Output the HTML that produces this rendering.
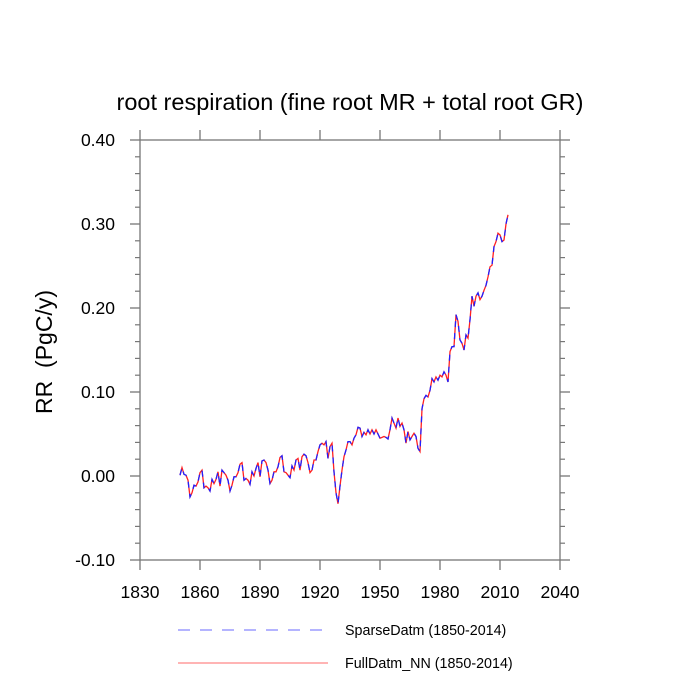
<!DOCTYPE html>
<html><head><meta charset="utf-8"><style>
html,body{margin:0;padding:0;background:#fff;}
svg{display:block;font-family:"Liberation Sans",sans-serif;}
</style></head><body>
<svg id="chart" width="700" height="700">
<text x="350" y="110" text-anchor="middle" font-size="23.5">root respiration (fine root MR + total root GR)</text>
<text transform="translate(52,352) rotate(-90)" text-anchor="middle" font-size="23">RR&#160; (PgC/y)</text>
<g id="axes"></g>
<g id="series"></g>
<g>
<line x1="178" y1="630" x2="328" y2="630" stroke="#6a6aff" stroke-width="1" stroke-dasharray="12,10"/>
<text x="345" y="635" font-size="14.3">SparseDatm (1850-2014)</text>
<line x1="178" y1="663" x2="328" y2="663" stroke="#ff6a6a" stroke-width="1"/>
<text x="345" y="668" font-size="14.3">FullDatm_NN (1850-2014)</text>
</g>
</svg>
<script>
const startYear = 1850;
const fullValues = [0.001,0.010,0.002,0.001,-0.005,-0.025,-0.020,-0.011,-0.012,-0.007,
0.004,0.007,-0.014,-0.012,-0.014,-0.018,-0.004,-0.009,-0.004,0.005,
-0.012,0.007,0.004,0.001,-0.005,-0.018,-0.011,-0.001,-0.001,0.004,
0.014,0.016,-0.005,-0.003,-0.005,-0.010,0.005,0.000,0.009,0.016,
-0.001,0.018,0.019,0.016,0.007,-0.009,-0.005,0.005,0.005,0.011,
0.022,0.024,0.005,0.004,0.001,-0.002,0.012,0.007,0.019,0.021,
0.007,0.023,0.026,0.024,0.016,0.004,0.007,0.019,0.019,0.029,
0.037,0.039,0.037,0.041,0.021,0.035,0.039,0.005,-0.020,-0.033,
-0.012,0.007,0.023,0.031,0.041,0.041,0.037,0.045,0.049,0.058,
0.057,0.047,0.052,0.049,0.055,0.050,0.055,0.050,0.055,0.050,
0.045,0.046,0.047,0.046,0.044,0.055,0.069,0.063,0.057,0.069,
0.059,0.063,0.055,0.039,0.053,0.043,0.047,0.051,0.047,0.033,
0.029,0.080,0.092,0.096,0.094,0.102,0.116,0.112,0.118,0.114,
0.120,0.118,0.124,0.120,0.112,0.148,0.154,0.154,0.192,0.184,
0.162,0.158,0.150,0.168,0.164,0.186,0.214,0.202,0.214,0.218,
0.210,0.214,0.221,0.227,0.237,0.249,0.251,0.273,0.279,0.289,
0.287,0.279,0.281,0.300,0.311];
const sparseValues = fullValues.slice();
const xTicks = [1830,1860,1890,1920,1950,1980,2010,2040];
const yTicks = [-0.1,0.0,0.1,0.2,0.3,0.4];
const yTickLabels = ["-0.10","0.00","0.10","0.20","0.30","0.40"];

const L=140,R=560,T=140,B=560;
const xS=v=>L+(v-1830)/(2040-1830)*(R-L);
const yS=v=>B-(v+0.1)/0.5*(B-T);
const NS="http://www.w3.org/2000/svg";
const ax=document.getElementById('axes');
function mk(tag,attrs,parent){const e=document.createElementNS(NS,tag);for(const k in attrs)e.setAttribute(k,attrs[k]);parent.appendChild(e);return e;}
const col="#777";
const frame=mk('rect',{x:L,y:T,width:R-L,height:B-T,fill:'none',stroke:col,'stroke-width':1.3},ax);


xTicks.forEach(t=>{
  const x=xS(t);
  const a=mk('line',{x1:x,y1:B,x2:x,y2:B+10,stroke:col,'stroke-width':1.3},ax);
  
  
  const b=mk('line',{x1:x,y1:T,x2:x,y2:T-10,stroke:col,'stroke-width':1.3},ax);
  
  
  const tx=mk('text',{x:x,y:B+38,'text-anchor':'middle','font-size':17.5},ax);
  tx.textContent=t;
  
  
});
yTicks.forEach((t,i)=>{
  const y=yS(t);
  const a=mk('line',{x1:L,y1:y,x2:L-10,y2:y,stroke:col,'stroke-width':1.3},ax);
  
  
  const b=mk('line',{x1:R,y1:y,x2:R+10,y2:y,stroke:col,'stroke-width':1.3},ax);
  
  
  const tx=mk('text',{x:L-25,y:y+6,'text-anchor':'end','font-size':17.5},ax);
  tx.textContent=yTickLabels[i];
  
  
  if(i<yTicks.length-1){for(let m=1;m<5;m++){const ym=yS(t+m*0.02);
    const c=mk('line',{x1:L,y1:ym,x2:L-5,y2:ym,stroke:col,'stroke-width':1.2},ax);
    
    
    const d=mk('line',{x1:R,y1:ym,x2:R+5,y2:ym,stroke:col,'stroke-width':1.2},ax);
    
    }}
});
const sg=document.getElementById('series');
function pts(arr){return arr.map((v,i)=>xS(startYear+i).toFixed(1)+','+yS(v).toFixed(1)).join(' ');}
const full=mk('polyline',{points:pts(fullValues),fill:'none',stroke:'#ff2020','stroke-width':1.3},sg);


const sp=mk('polyline',{points:pts(sparseValues),fill:'none',stroke:'#2020ff','stroke-width':1.3,'stroke-dasharray':'6,6'},sg);


</script>
</body></html>
